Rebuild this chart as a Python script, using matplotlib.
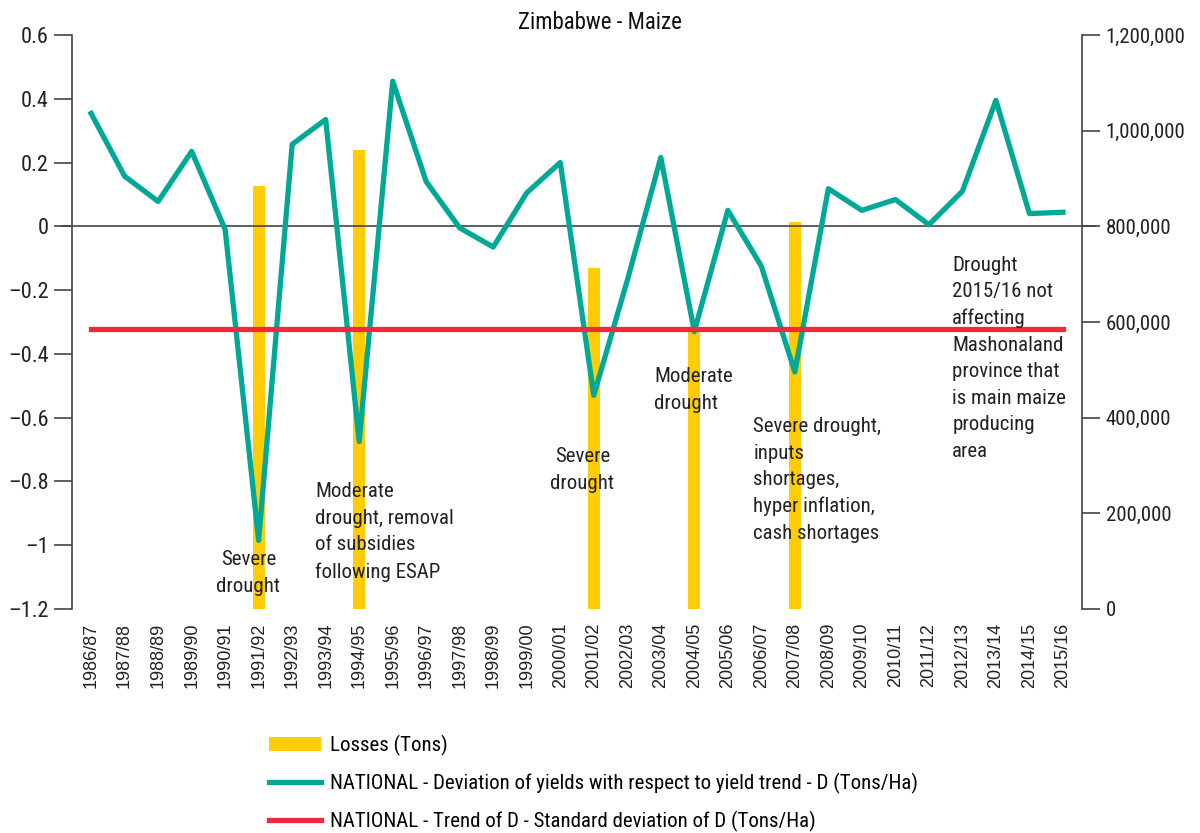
import matplotlib
matplotlib.use("Agg")
import matplotlib.pyplot as plt
from matplotlib import font_manager
from matplotlib.ticker import FuncFormatter
import numpy as np

seasons = ["1986/87", "1987/88", "1988/89", "1989/90", "1990/91", "1991/92",
           "1992/93", "1993/94", "1994/95", "1995/96", "1996/97", "1997/98",
           "1998/99", "1999/00", "2000/01", "2001/02", "2002/03", "2003/04",
           "2004/05", "2005/06", "2006/07", "2007/08", "2008/09", "2009/10",
           "2010/11", "2011/12", "2012/13", "2013/14", "2014/15", "2015/16"]

# deviation of yields from trend (Tons/Ha)
deviation = [0.354, 0.157, 0.078, 0.235, -0.01, -0.985, 0.257, 0.335, -0.675,
             0.455, 0.14, -0.005, -0.065, 0.105, 0.2, -0.53, -0.17, 0.216,
             -0.33, 0.05, -0.125, -0.457, 0.118, 0.05, 0.084, 0.005, 0.11,
             0.395, 0.04, 0.044]
# trend of D - std of D
threshold = [-0.323] * len(seasons)

# losses (tons), only drought years
loss_seasons = ["1991/92", "1994/95", "2001/02", "2004/05", "2007/08"]
losses = [884000, 960000, 713000, 585000, 809000]

notes = [
    ("Severe\ndrought", 4.69, -1.088, "center"),
    ("Moderate\ndrought, removal\nof subsidies\nfollowing ESAP", 6.69, -0.959, "left"),
    ("Severe\ndrought", 14.66, -0.765, "center"),
    ("Moderate\ndrought", 16.81, -0.514, "left"),
    ("Severe drought,\ninputs\nshortages,\nhyper inflation,\ncash shortages", 19.76, -0.796, "left"),
    ("Drought\n2015/16 not\naffecting\nMashonaland\nprovince that\nis main maize\nproducing\narea", 25.7, -0.414, "left"),
]

TEAL = "#00A896"
YELLOW = "#FFCC06"
RED = "#EE2A3C"
GREY = "#444444"


# look for a condensed / narrow face, the original uses a condensed font
def pick_narrow():
    cands = []
    for f in font_manager.fontManager.ttflist:
        st = str(f.stretch).lower()
        name = f.fname.lower()
        if f.style != "normal" or f.weight not in (400, "normal", "regular"):
            continue
        if "condensed" in st or "narrow" in name or "condensed" in name:
            if "semi" in st or "semi" in name or "extra" in name or "ultra" in name:
                continue
            cands.append(f)
    for want in ["liberation sans narrow", "roboto condensed", "dejavu sans",
                 "noto sans", "open sans"]:
        for f in cands:
            if f.name.lower() == want:
                return f.fname
    if cands:
        return cands[0].fname
    return None


nf = pick_narrow()
if nf:
    def fp(size):
        return font_manager.FontProperties(fname=nf, size=size)
else:
    def fp(size):
        return font_manager.FontProperties(family="DejaVu Sans", size=size * 0.9)

fig = plt.figure(figsize=(12, 8.33), dpi=100)
ax = fig.add_axes([0.06, 0.269, 0.8417, 0.689])
ax2 = ax.twinx()

x = np.arange(len(seasons))
bx = [seasons.index(s) for s in loss_seasons]

# bars on the right axis, behind the lines
ax2.bar(bx, losses, width=0.36, color=YELLOW, zorder=1, label="Losses (Tons)")
ax2.set_ylim(0, 1200000)
ax2.set_yticks(np.arange(0, 1200001, 200000))
ax2.yaxis.set_major_formatter(FuncFormatter(lambda v, p: f"{int(v):,}"))

ax.set_zorder(ax2.get_zorder() + 1)
ax.patch.set_visible(False)

ax.axhline(0, color=GREY, lw=1.2, zorder=2)
ax.plot([-0.88, -0.57], [0, 0], color=GREY, lw=1.2, clip_on=False)
ax.plot([29.57, 29.95], [0, 0], color=GREY, lw=1.2, clip_on=False)

l1, = ax.plot(x, deviation, color=TEAL, lw=3.8, zorder=3,
              label="NATIONAL - Deviation of yields with respect to yield trend - D (Tons/Ha)")
l2, = ax.plot(x, threshold, color=RED, lw=3.8, zorder=4,
              label="NATIONAL - Trend of D - Standard deviation of D (Tons/Ha)")


def left_fmt(v, p):
    v = round(v, 1)
    if abs(v) < 1e-9:
        return "0"
    return f"{v:g}".replace("-", "\u2013")


ax.set_ylim(-1.2, 0.6)
ax.set_yticks(np.arange(-1.2, 0.61, 0.2))
ax.yaxis.set_major_formatter(FuncFormatter(left_fmt))
ax.set_xlim(-0.57, 29.57)
ax.set_xticks(x)
ax.set_xticklabels(seasons, rotation=90, fontsize=13, family="Liberation Sans",
                   color="#222222")

for a in (ax, ax2):
    a.spines["top"].set_visible(False)
    a.spines["bottom"].set_visible(False)
    a.tick_params(axis="y", length=13, width=1.2, color=GREY, pad=4)
    a.tick_params(axis="x", length=0, pad=10)
for lab in ax.get_yticklabels():
    lab.set_fontproperties(fp(16))
    lab.set_color("#222222")
for lab in ax2.get_yticklabels():
    lab.set_fontproperties(fp(15))
    lab.set_color("#222222")
ax.spines["left"].set_color(GREY)
ax.spines["left"].set_linewidth(1.2)
ax.spines["right"].set_visible(False)
ax2.spines["left"].set_visible(False)
ax2.spines["right"].set_color(GREY)
ax2.spines["right"].set_linewidth(1.2)

for txt, tx, ty, ha in notes:
    ax.text(tx, ty, txt, ha=ha, va="center", multialignment=ha,
            fontproperties=fp(15), color="#222222", linespacing=1.5, zorder=5)

fig.text(0.5, 0.973, "Zimbabwe - Maize", ha="center", va="center",
         fontproperties=fp(16.5), color="#111111")

handles = [ax2.containers[0], l1, l2]
labels = [h.get_label() for h in handles]
fig.legend(handles, labels, loc="upper left", bbox_to_anchor=(0.217, 0.128),
           frameon=False, prop=fp(15),
           handlelength=2.5, labelspacing=0.82, handletextpad=0.45,
           borderaxespad=0)

fig.savefig("out.png", dpi=100)
